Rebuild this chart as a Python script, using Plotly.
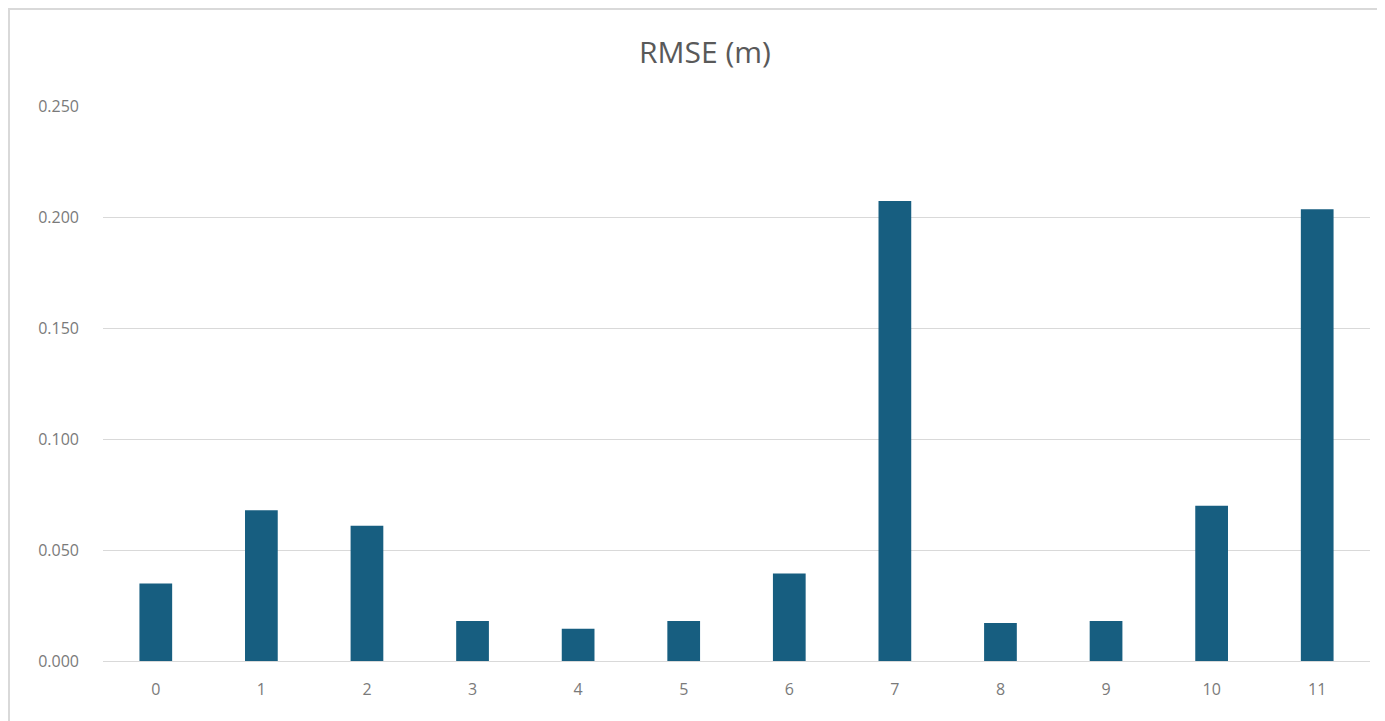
import plotly.graph_objects as go

categories = ["0", "1", "2", "3", "4", "5", "6", "7", "8", "9", "10", "11"]
rmse = [0.035, 0.068, 0.061, 0.018, 0.0145, 0.018, 0.0395, 0.2075, 0.0172, 0.018, 0.070, 0.2038]
tick_vals = [0, 0.05, 0.10, 0.15, 0.20, 0.25]
tick_text = ["0.000", "0.050", "0.100", "0.150", "0.200", "0.250"]

W, H = 1385, 721
L, R, T, B = 95, 23, 98, 68
pw = W - L - R
ph = H - T - B

fig = go.Figure(go.Bar(x=categories, y=rmse, marker=dict(color="#175e80", line=dict(width=0)), width=0.31))

fig.update_layout(
    width=W, height=H,
    margin=dict(l=L, r=R, t=T, b=B),
    paper_bgcolor="white", plot_bgcolor="white",
    title=dict(text="RMSE (m)", x=697 / W, xref="container", xanchor="center",
               y=1 - 44 / H, yanchor="middle",
               font=dict(family="Open Sans", size=30, color="#595959")),
    font=dict(family="Open Sans", color="#595959"),
    showlegend=False,
    xaxis=dict(type="category", showgrid=False, showline=True, linecolor="#d9d9d9", linewidth=1,
               ticks="", tickfont=dict(size=16, color="#7a7a7a"), ticklabelstandoff=14),
    yaxis=dict(range=[0, 0.2504], tickvals=tick_vals, ticktext=tick_text, showgrid=True,
               gridcolor="#d9d9d9", gridwidth=1, zeroline=False, showline=False, ticks="",
               tickfont=dict(size=16, color="#7a7a7a"), ticklabelstandoff=23),
)

fig.add_shape(type="rect", xref="paper", yref="paper",
              x0=-(L - 1) / pw, x1=(W - L + 10) / pw,
              y0=-(B + 10) / ph, y1=1 + (T - 1) / ph,
              line=dict(color="#d9d9d9", width=2), layer="below")

fig.write_html("out.html")
